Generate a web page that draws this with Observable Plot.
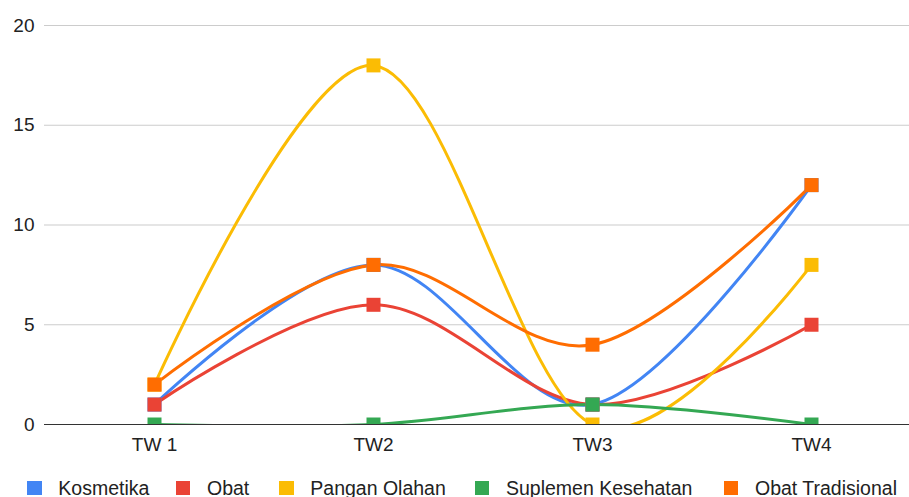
<!DOCTYPE html>
<html>
<head>
<meta charset="utf-8">
<script src="https://cdn.jsdelivr.net/npm/d3@7"></script>
<script src="https://cdn.jsdelivr.net/npm/@observablehq/plot@0.6"></script>
<style>
  body { margin: 0; background: #fff; font-family: "Liberation Sans", Arial, sans-serif; overflow: hidden; }
  #chart svg { display: block; }
  #legend { position: relative; height: 24px; font-size: 19.5px; color: #222; white-space: nowrap; }
  #legend .item { position: absolute; top: 0; height: 24px; display: flex; align-items: center; }
  #legend .sw { width: 14.4px; height: 14.4px; margin-right: 16.6px; }
</style>
</head>
<body>
<div id="chart"></div>
<div id="legend"></div>
<script>
const quarters = ["TW 1", "TW2", "TW3", "TW4"];
const seriesNames = ["Kosmetika", "Obat", "Pangan Olahan", "Suplemen Kesehatan", "Obat Tradisional"];
const seriesColors = ["#4285F4", "#EA4335", "#FBBC04", "#34A853", "#FF6D01"];
const kosmetika = [1, 8, 1, 12];
const obat = [1, 6, 1, 5];
const panganOlahan = [2, 18, 0, 8];
const suplemenKesehatan = [0, 0, 1, 0];
const obatTradisional = [2, 8, 4, 12];
const yTicks = [0, 5, 10, 15, 20];

const allValues = [kosmetika, obat, panganOlahan, suplemenKesehatan, obatTradisional];
const data = [];
seriesNames.forEach((s, i) => {
  quarters.forEach((q, j) => data.push({series: s, quarter: q, value: allValues[i][j]}));
});

const W = 909, H = 476, ML = 44, MT = 25, MB = 52;
const chart = Plot.plot({
  width: W,
  height: H,
  marginLeft: ML,
  marginRight: 0,
  marginTop: MT,
  marginBottom: MB,
  style: {fontFamily: "'Liberation Sans', Arial, sans-serif", fontSize: "19px", color: "#222", background: "#fff"},
  x: {type: "point", domain: quarters, range: [ML, ML + 876], padding: 0.5},
  y: {domain: [0, 20]},
  color: {domain: seriesNames, range: seriesColors},
  marks: [
    Plot.ruleY(yTicks.filter(d => d > 0), {stroke: "#cccccc", strokeWidth: 1.2}),
    Plot.ruleY([0], {stroke: "#333333", strokeWidth: 1.2}),
    Plot.axisY({ticks: yTicks, tickSize: 0, tickPadding: 10, label: null, fill: "#222", fontSize: 19}),
    Plot.axisX({tickSize: 0, tickPadding: 13, label: null, fill: "#222", fontSize: 19}),
    Plot.line(data, {x: "quarter", y: "value", z: "series", stroke: "series", strokeWidth: 3, curve: "cardinal", clip: true}),
    Plot.dot(data, {x: "quarter", y: "value", fill: "series", symbol: "square", r: 7.9, clip: true})
  ]
});
document.getElementById("chart").appendChild(chart);

const legend = document.getElementById("legend");
const legendLeft = [27.3, 176, 279.3, 475, 724];
seriesNames.forEach((s, i) => {
  const it = document.createElement("div");
  it.className = "item";
  it.style.left = legendLeft[i] + "px";
  const sw = document.createElement("div");
  sw.className = "sw";
  sw.style.background = seriesColors[i];
  const t = document.createElement("span");
  t.textContent = s;
  it.appendChild(sw);
  it.appendChild(t);
  legend.appendChild(it);
});
</script>
</body>
</html>
